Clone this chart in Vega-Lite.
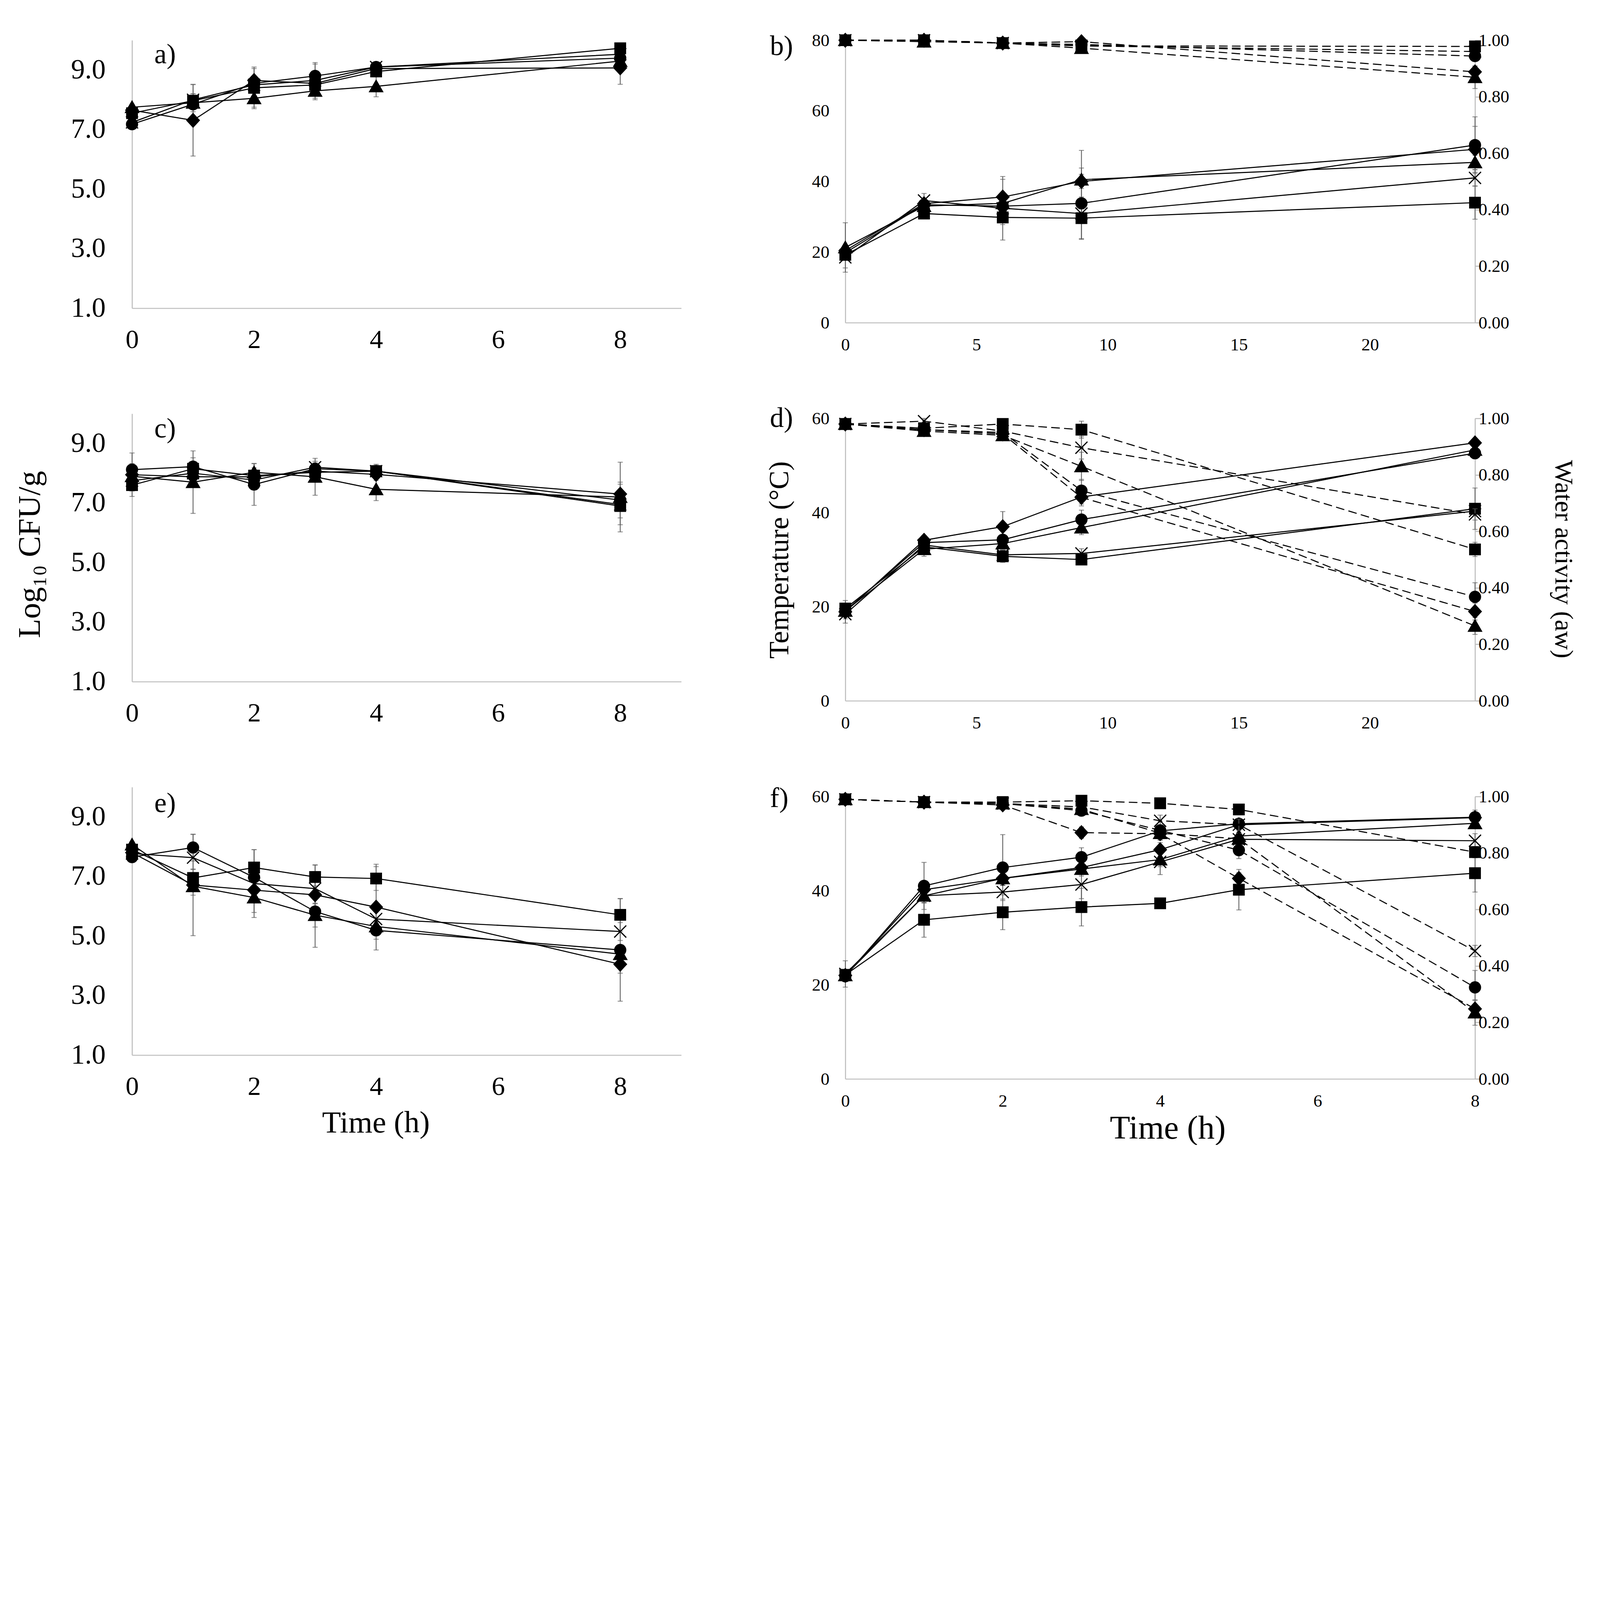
{
  "$schema": "https://vega.github.io/schema/vega-lite/v6.json",
  "background": "white",
  "padding": {"left": 36, "top": 79, "right": 20, "bottom": 0},
  "config": {
    "view": {"stroke": null},
    "font": "Liberation Serif",
    "title": {"font": "Liberation Serif", "fontWeight": "normal", "color": "black", "anchor": "start", "frame": "group", "align": "left", "baseline": "alphabetic", "offset": 0, "fontSize": 71},
    "axis": {
      "grid": false, "ticks": false, "tickSize": 0,
      "domainColor": "#bfbfbf", "domainWidth": 2.7,
      "labelFont": "Liberation Serif", "titleFont": "Liberation Serif",
      "labelColor": "black", "titleColor": "black", "titleFontWeight": "normal",
      "labelFlush": false, "labelOverlap": false, "labelBound": false
    }
  },
  "datasets": {
    "a": [
      {"t":0,"s":"diamond","v":7.65,"e":0.15},{"t":1,"s":"diamond","v":7.31,"e":1.2},{"t":2,"s":"diamond","v":8.65,"e":0.4},{"t":3,"s":"diamond","v":8.55,"e":0.2},{"t":4,"s":"diamond","v":9.05,"e":0.15},{"t":8,"s":"diamond","v":9.07,"e":0.55},
      {"t":0,"s":"square","v":7.55,"e":0.15},{"t":1,"s":"square","v":7.97,"e":0.55},{"t":2,"s":"square","v":8.4,"e":0.7},{"t":3,"s":"square","v":8.5,"e":0.2},{"t":4,"s":"square","v":8.95,"e":0.15},{"t":8,"s":"square","v":9.73,"e":0.15},
      {"t":0,"s":"triangle","v":7.75,"e":0.1},{"t":1,"s":"triangle","v":7.9,"e":0.3},{"t":2,"s":"triangle","v":8.05,"e":0.3},{"t":3,"s":"triangle","v":8.3,"e":0.3},{"t":4,"s":"triangle","v":8.45,"e":0.35},{"t":8,"s":"triangle","v":9.3,"e":0.15},
      {"t":0,"s":"cross","v":7.24,"e":0.1},{"t":1,"s":"cross","v":8.0,"e":0.2},{"t":2,"s":"cross","v":8.5,"e":0.2},{"t":3,"s":"cross","v":8.65,"e":0.6},{"t":4,"s":"cross","v":9.1,"e":0.15},{"t":8,"s":"cross","v":9.53,"e":0.1},
      {"t":0,"s":"circle","v":7.18,"e":0.1},{"t":1,"s":"circle","v":7.85,"e":0.1},{"t":2,"s":"circle","v":8.55,"e":0.2},{"t":3,"s":"circle","v":8.8,"e":0.4},{"t":4,"s":"circle","v":9.1,"e":0.15},{"t":8,"s":"circle","v":9.4,"e":0.1}
    ],
    "c": [
      {"t":0,"s":"diamond","v":7.95,"e":0.73},{"t":1,"s":"diamond","v":7.88,"e":0.3},{"t":2,"s":"diamond","v":7.88,"e":0.3},{"t":3,"s":"diamond","v":8.07,"e":0.2},{"t":4,"s":"diamond","v":7.96,"e":0.2},{"t":8,"s":"diamond","v":7.3,"e":0.4},
      {"t":0,"s":"square","v":7.6,"e":0.2},{"t":1,"s":"square","v":8.15,"e":0.2},{"t":2,"s":"square","v":7.92,"e":0.2},{"t":3,"s":"square","v":8.03,"e":0.2},{"t":4,"s":"square","v":8.07,"e":0.15},{"t":8,"s":"square","v":6.9,"e":0.4},
      {"t":0,"s":"triangle","v":7.9,"e":0.3},{"t":1,"s":"triangle","v":7.7,"e":1.05},{"t":2,"s":"triangle","v":8.03,"e":0.3},{"t":3,"s":"triangle","v":7.88,"e":0.62},{"t":4,"s":"triangle","v":7.46,"e":0.38},{"t":8,"s":"triangle","v":7.2,"e":1.17},
      {"t":0,"s":"cross","v":7.75,"e":0.2},{"t":1,"s":"cross","v":8.0,"e":0.3},{"t":2,"s":"cross","v":7.77,"e":0.3},{"t":3,"s":"cross","v":8.2,"e":0.2},{"t":4,"s":"cross","v":8.07,"e":0.2},{"t":8,"s":"cross","v":6.95,"e":0.68},
      {"t":0,"s":"circle","v":8.12,"e":0.2},{"t":1,"s":"circle","v":8.22,"e":0.3},{"t":2,"s":"circle","v":7.62,"e":0.7},{"t":3,"s":"circle","v":8.15,"e":0.2},{"t":4,"s":"circle","v":8.07,"e":0.23},{"t":8,"s":"circle","v":7.1,"e":0.3}
    ],
    "e": [
      {"t":0,"s":"diamond","v":7.8,"e":0.1},{"t":1,"s":"diamond","v":6.71,"e":1.7},{"t":2,"s":"diamond","v":6.54,"e":0.4},{"t":3,"s":"diamond","v":6.38,"e":0.3},{"t":4,"s":"diamond","v":5.97,"e":1.44},{"t":8,"s":"diamond","v":4.05,"e":0.3},
      {"t":0,"s":"square","v":7.9,"e":0.1},{"t":1,"s":"square","v":6.95,"e":0.3},{"t":2,"s":"square","v":7.3,"e":0.6},{"t":3,"s":"square","v":6.98,"e":0.4},{"t":4,"s":"square","v":6.93,"e":0.4},{"t":8,"s":"square","v":5.71,"e":0.55},
      {"t":0,"s":"triangle","v":8.07,"e":0.1},{"t":1,"s":"triangle","v":6.67,"e":0.3},{"t":2,"s":"triangle","v":6.29,"e":0.5},{"t":3,"s":"triangle","v":5.7,"e":0.4},{"t":4,"s":"triangle","v":5.32,"e":0.3},{"t":8,"s":"triangle","v":4.39,"e":0.3},
      {"t":0,"s":"cross","v":7.77,"e":0.1},{"t":1,"s":"cross","v":7.63,"e":0.4},{"t":2,"s":"cross","v":6.76,"e":1.14},{"t":3,"s":"cross","v":6.59,"e":0.8},{"t":4,"s":"cross","v":5.57,"e":0.3},{"t":8,"s":"cross","v":5.15,"e":0.3},
      {"t":0,"s":"circle","v":7.65,"e":0.1},{"t":1,"s":"circle","v":7.97,"e":0.45},{"t":2,"s":"circle","v":6.97,"e":0.4},{"t":3,"s":"circle","v":5.82,"e":1.2},{"t":4,"s":"circle","v":5.19,"e":0.3},{"t":8,"s":"circle","v":4.53,"e":1.72}
    ],
    "bT": [
      {"t":0,"s":"diamond","v":20.4,"e":1},{"t":3,"s":"diamond","v":33.7,"e":1},{"t":6,"s":"diamond","v":35.6,"e":5},{"t":9,"s":"diamond","v":40.0,"e":2},{"t":24,"s":"diamond","v":49.1,"e":6.5},
      {"t":0,"s":"square","v":19.2,"e":1},{"t":3,"s":"square","v":30.9,"e":1},{"t":6,"s":"square","v":29.8,"e":2},{"t":9,"s":"square","v":29.6,"e":6},{"t":24,"s":"square","v":34.0,"e":4.7},
      {"t":0,"s":"triangle","v":21.3,"e":7},{"t":3,"s":"triangle","v":33.0,"e":1},{"t":6,"s":"triangle","v":33.8,"e":2},{"t":9,"s":"triangle","v":40.5,"e":8.3},{"t":24,"s":"triangle","v":45.4,"e":2},
      {"t":0,"s":"cross","v":18.5,"e":3},{"t":3,"s":"cross","v":34.6,"e":2},{"t":6,"s":"cross","v":32.4,"e":9},{"t":9,"s":"cross","v":30.9,"e":2},{"t":24,"s":"cross","v":41.0,"e":2.3},
      {"t":0,"s":"circle","v":19.8,"e":1},{"t":3,"s":"circle","v":33.4,"e":1},{"t":6,"s":"circle","v":33.0,"e":2},{"t":9,"s":"circle","v":33.8,"e":10},{"t":24,"s":"circle","v":50.3,"e":8}
    ],
    "bW": [
      {"t":0,"s":"diamond","v":1.0,"e":0.005},{"t":3,"s":"diamond","v":1.0,"e":0.005},{"t":6,"s":"diamond","v":0.99,"e":0.005},{"t":9,"s":"diamond","v":0.995,"e":0.005},{"t":24,"s":"diamond","v":0.888,"e":0.02},
      {"t":0,"s":"square","v":1.0,"e":0.005},{"t":3,"s":"square","v":1.0,"e":0.005},{"t":6,"s":"square","v":0.99,"e":0.005},{"t":9,"s":"square","v":0.98,"e":0.005},{"t":24,"s":"square","v":0.978,"e":0.005},
      {"t":0,"s":"triangle","v":1.0,"e":0.005},{"t":3,"s":"triangle","v":0.995,"e":0.005},{"t":6,"s":"triangle","v":0.99,"e":0.005},{"t":9,"s":"triangle","v":0.972,"e":0.01},{"t":24,"s":"triangle","v":0.869,"e":0.04},
      {"t":0,"s":"cross","v":1.0,"e":0.005},{"t":3,"s":"cross","v":1.0,"e":0.005},{"t":6,"s":"cross","v":0.99,"e":0.005},{"t":9,"s":"cross","v":0.98,"e":0.005},{"t":24,"s":"cross","v":0.96,"e":0.005},
      {"t":0,"s":"circle","v":1.0,"e":0.005},{"t":3,"s":"circle","v":1.0,"e":0.005},{"t":6,"s":"circle","v":0.99,"e":0.005},{"t":9,"s":"circle","v":0.985,"e":0.005},{"t":24,"s":"circle","v":0.944,"e":0.01}
    ],
    "dT": [
      {"t":0,"s":"diamond","v":18.9,"e":2.4},{"t":3,"s":"diamond","v":34.1,"e":1},{"t":6,"s":"diamond","v":37.0,"e":3.2},{"t":9,"s":"diamond","v":43.3,"e":1.5},{"t":24,"s":"diamond","v":54.8,"e":0.5},
      {"t":0,"s":"square","v":19.6,"e":1},{"t":3,"s":"square","v":32.7,"e":2},{"t":6,"s":"square","v":30.7,"e":1.3},{"t":9,"s":"square","v":30.0,"e":0.8},{"t":24,"s":"square","v":40.8,"e":4.4},
      {"t":0,"s":"triangle","v":19.1,"e":1},{"t":3,"s":"triangle","v":32.2,"e":1},{"t":6,"s":"triangle","v":33.4,"e":1},{"t":9,"s":"triangle","v":36.8,"e":1.5},{"t":24,"s":"triangle","v":53.3,"e":1.5},
      {"t":0,"s":"cross","v":18.4,"e":1},{"t":3,"s":"cross","v":33.1,"e":1},{"t":6,"s":"cross","v":31.0,"e":1},{"t":9,"s":"cross","v":31.3,"e":1},{"t":24,"s":"cross","v":40.3,"e":1},
      {"t":0,"s":"circle","v":19.1,"e":1},{"t":3,"s":"circle","v":33.6,"e":1},{"t":6,"s":"circle","v":34.2,"e":1},{"t":9,"s":"circle","v":38.5,"e":2},{"t":24,"s":"circle","v":52.6,"e":1.2}
    ],
    "dW": [
      {"t":0,"s":"diamond","v":0.98,"e":0.005},{"t":3,"s":"diamond","v":0.96,"e":0.01},{"t":6,"s":"diamond","v":0.945,"e":0.01},{"t":9,"s":"diamond","v":0.72,"e":0.03},{"t":24,"s":"diamond","v":0.316,"e":0.03},
      {"t":0,"s":"square","v":0.98,"e":0.005},{"t":3,"s":"square","v":0.965,"e":0.01},{"t":6,"s":"square","v":0.98,"e":0.01},{"t":9,"s":"square","v":0.96,"e":0.03},{"t":24,"s":"square","v":0.536,"e":0.025},
      {"t":0,"s":"triangle","v":0.98,"e":0.005},{"t":3,"s":"triangle","v":0.955,"e":0.01},{"t":6,"s":"triangle","v":0.94,"e":0.01},{"t":9,"s":"triangle","v":0.83,"e":0.05},{"t":24,"s":"triangle","v":0.265,"e":0.03},
      {"t":0,"s":"cross","v":0.98,"e":0.005},{"t":3,"s":"cross","v":0.99,"e":0.01},{"t":6,"s":"cross","v":0.955,"e":0.01},{"t":9,"s":"cross","v":0.896,"e":0.04},{"t":24,"s":"cross","v":0.66,"e":0.02},
      {"t":0,"s":"circle","v":0.98,"e":0.005},{"t":3,"s":"circle","v":0.96,"e":0.01},{"t":6,"s":"circle","v":0.95,"e":0.01},{"t":9,"s":"circle","v":0.744,"e":0.04},{"t":24,"s":"circle","v":0.368,"e":0.05}
    ],
    "fT": [
      {"t":0,"s":"diamond","v":22.0,"e":1},{"t":1,"s":"diamond","v":40.2,"e":1.5},{"t":2,"s":"diamond","v":42.6,"e":1.5},{"t":3,"s":"diamond","v":44.9,"e":1.5},{"t":4,"s":"diamond","v":48.7,"e":1.5},{"t":5,"s":"diamond","v":54.0,"e":1},{"t":8,"s":"diamond","v":55.5,"e":1},
      {"t":0,"s":"square","v":22.1,"e":1},{"t":1,"s":"square","v":33.8,"e":3.7},{"t":2,"s":"square","v":35.4,"e":3.7},{"t":3,"s":"square","v":36.5,"e":4},{"t":4,"s":"square","v":37.3,"e":1},{"t":5,"s":"square","v":40.2,"e":4.3},{"t":8,"s":"square","v":43.7,"e":4},
      {"t":0,"s":"triangle","v":22.0,"e":1},{"t":1,"s":"triangle","v":38.9,"e":1.5},{"t":2,"s":"triangle","v":42.6,"e":1.5},{"t":3,"s":"triangle","v":44.6,"e":1.5},{"t":4,"s":"triangle","v":46.6,"e":1.5},{"t":5,"s":"triangle","v":51.6,"e":1.5},{"t":8,"s":"triangle","v":54.3,"e":1},
      {"t":0,"s":"cross","v":22.3,"e":2.8},{"t":1,"s":"cross","v":38.9,"e":1.5},{"t":2,"s":"cross","v":39.7,"e":1.5},{"t":3,"s":"cross","v":41.3,"e":3},{"t":4,"s":"cross","v":46.1,"e":2.7},{"t":5,"s":"cross","v":50.9,"e":1.5},{"t":8,"s":"cross","v":50.6,"e":1.5},
      {"t":0,"s":"circle","v":21.8,"e":1},{"t":1,"s":"circle","v":41.0,"e":5},{"t":2,"s":"circle","v":44.9,"e":7},{"t":3,"s":"circle","v":47.1,"e":2},{"t":4,"s":"circle","v":52.7,"e":2},{"t":5,"s":"circle","v":54.2,"e":1},{"t":8,"s":"circle","v":55.6,"e":1.5}
    ],
    "fW": [
      {"t":0,"s":"diamond","v":0.99,"e":0.005},{"t":1,"s":"diamond","v":0.98,"e":0.005},{"t":2,"s":"diamond","v":0.97,"e":0.01},{"t":3,"s":"diamond","v":0.872,"e":0.02},{"t":4,"s":"diamond","v":0.868,"e":0.02},{"t":5,"s":"diamond","v":0.71,"e":0.02},{"t":8,"s":"diamond","v":0.248,"e":0.03},
      {"t":0,"s":"square","v":0.99,"e":0.005},{"t":1,"s":"square","v":0.98,"e":0.005},{"t":2,"s":"square","v":0.98,"e":0.005},{"t":3,"s":"square","v":0.985,"e":0.005},{"t":4,"s":"square","v":0.976,"e":0.01},{"t":5,"s":"square","v":0.954,"e":0.013},{"t":8,"s":"square","v":0.803,"e":0.02},
      {"t":0,"s":"triangle","v":0.99,"e":0.005},{"t":1,"s":"triangle","v":0.98,"e":0.005},{"t":2,"s":"triangle","v":0.975,"e":0.01},{"t":3,"s":"triangle","v":0.955,"e":0.01},{"t":4,"s":"triangle","v":0.87,"e":0.02},{"t":5,"s":"triangle","v":0.85,"e":0.02},{"t":8,"s":"triangle","v":0.235,"e":0.045},
      {"t":0,"s":"cross","v":0.99,"e":0.005},{"t":1,"s":"cross","v":0.98,"e":0.005},{"t":2,"s":"cross","v":0.975,"e":0.01},{"t":3,"s":"cross","v":0.963,"e":0.01},{"t":4,"s":"cross","v":0.914,"e":0.02},{"t":5,"s":"cross","v":0.9,"e":0.02},{"t":8,"s":"cross","v":0.453,"e":0.02},
      {"t":0,"s":"circle","v":0.99,"e":0.005},{"t":1,"s":"circle","v":0.98,"e":0.005},{"t":2,"s":"circle","v":0.975,"e":0.01},{"t":3,"s":"circle","v":0.95,"e":0.01},{"t":4,"s":"circle","v":0.88,"e":0.02},{"t":5,"s":"circle","v":0.81,"e":0.03},{"t":8,"s":"circle","v":0.324,"e":0.06}
    ]
  },
  "spacing": 215,
  "hconcat": [
    {
      "spacing": 270,
      "bounds": "flush",
      "vconcat": [
        {
          "width": 1406, "height": 686,
          "title": {"text": "a)", "dx": 57, "dy": 78},
          "data": {"name": "a"},
          "encoding": {
            "x": {"field": "t", "type": "quantitative", "scale": {"domain": [0, 9], "nice": false, "zero": false},
                  "axis": {"values": [0, 2, 4, 6, 8], "labelFontSize": 68, "labelBaseline": "alphabetic", "labelPadding": 101, "title": null}},
            "y": {"field": "v", "type": "quantitative", "scale": {"domain": [1, 10], "nice": false, "zero": false},
                  "axis": {"values": [1, 3, 5, 7, 9], "format": ".1f", "labelFontSize": 71, "labelPadding": 68, "title": null}}
          },
          "layer": [
            {"transform": [{"filter": "datum.e > 0"}], "mark": {"type": "errorbar", "color": "#595959", "ticks": {"size": 13, "thickness": 2.1}, "rule": {"strokeWidth": 2.1}}, "encoding": {"yError": {"field": "e"}}},
            {"mark": {"type": "line", "color": "black", "strokeWidth": 2.7}, "encoding": {"detail": {"field": "s"}}},
            {"mark": {"type": "point", "filled": true, "fill": "black", "stroke": "black", "strokeWidth": 3, "opacity": 1, "size": 1313},
             "encoding": {"shape": {"field": "s", "type": "nominal", "legend": null, "scale": {"domain": ["diamond", "square", "triangle", "cross", "circle"], "range": ["M0,-0.95L0.88,0L0,0.95L-0.88,0Z", "M-0.75,-0.75L0.75,-0.75L0.75,0.75L-0.75,0.75Z", "M0,-0.85L0.92,0.75L-0.92,0.75Z", "M-0.85,-0.85L0.85,0.85M-0.85,0.85L0.85,-0.85", "M0.78,0A0.78,0.78,0,1,1,-0.78,0A0.78,0.78,0,1,1,0.78,0Z"]}}}}
          ]
        },
        {
          "width": 1406, "height": 686,
          "title": {"text": "c)", "dx": 57, "dy": 80},
          "data": {"name": "c"},
          "encoding": {
            "x": {"field": "t", "type": "quantitative", "scale": {"domain": [0, 9], "nice": false, "zero": false},
                  "axis": {"values": [0, 2, 4, 6, 8], "labelFontSize": 68, "labelBaseline": "alphabetic", "labelPadding": 101, "title": null}},
            "y": {"field": "v", "type": "quantitative", "scale": {"domain": [1, 10], "nice": false, "zero": false},
                  "axis": {"values": [1, 3, 5, 7, 9], "format": ".1f", "labelFontSize": 71, "labelPadding": 68,
                           "title": "Log₁₀ CFU/g", "titleFontSize": 81, "titleAngle": 270, "titleBaseline": "alphabetic", "titleAlign": "center", "titleX": -237, "titleY": 360}}
          },
          "layer": [
            {"transform": [{"filter": "datum.e > 0"}], "mark": {"type": "errorbar", "color": "#595959", "ticks": {"size": 13, "thickness": 2.1}, "rule": {"strokeWidth": 2.1}}, "encoding": {"yError": {"field": "e"}}},
            {"mark": {"type": "line", "color": "black", "strokeWidth": 2.7}, "encoding": {"detail": {"field": "s"}}},
            {"mark": {"type": "point", "filled": true, "fill": "black", "stroke": "black", "strokeWidth": 3, "opacity": 1, "size": 1313},
             "encoding": {"shape": {"field": "s", "type": "nominal", "legend": null, "scale": {"domain": ["diamond", "square", "triangle", "cross", "circle"], "range": ["M0,-0.95L0.88,0L0,0.95L-0.88,0Z", "M-0.75,-0.75L0.75,-0.75L0.75,0.75L-0.75,0.75Z", "M0,-0.85L0.92,0.75L-0.92,0.75Z", "M-0.85,-0.85L0.85,0.85M-0.85,0.85L0.85,-0.85", "M0.78,0A0.78,0.78,0,1,1,-0.78,0A0.78,0.78,0,1,1,0.78,0Z"]}}}}
          ]
        },
        {
          "width": 1406, "height": 686,
          "title": {"text": "e)", "dx": 57, "dy": 83},
          "data": {"name": "e"},
          "encoding": {
            "x": {"field": "t", "type": "quantitative", "scale": {"domain": [0, 9], "nice": false, "zero": false},
                  "axis": {"values": [0, 2, 4, 6, 8], "labelFontSize": 68, "labelBaseline": "alphabetic", "labelPadding": 101,
                           "title": "Time (h)", "titleFontSize": 79, "titleBaseline": "alphabetic", "titleAlign": "center", "titleX": 624, "titleY": 197}},
            "y": {"field": "v", "type": "quantitative", "scale": {"domain": [1, 10], "nice": false, "zero": false},
                  "axis": {"values": [1, 3, 5, 7, 9], "format": ".1f", "labelFontSize": 71, "labelPadding": 68, "title": null}}
          },
          "layer": [
            {"transform": [{"filter": "datum.e > 0"}], "mark": {"type": "errorbar", "color": "#595959", "ticks": {"size": 13, "thickness": 2.1}, "rule": {"strokeWidth": 2.1}}, "encoding": {"yError": {"field": "e"}}},
            {"mark": {"type": "line", "color": "black", "strokeWidth": 2.7}, "encoding": {"detail": {"field": "s"}}},
            {"mark": {"type": "point", "filled": true, "fill": "black", "stroke": "black", "strokeWidth": 3, "opacity": 1, "size": 1313},
             "encoding": {"shape": {"field": "s", "type": "nominal", "legend": null, "scale": {"domain": ["diamond", "square", "triangle", "cross", "circle"], "range": ["M0,-0.95L0.88,0L0,0.95L-0.88,0Z", "M-0.75,-0.75L0.75,-0.75L0.75,0.75L-0.75,0.75Z", "M0,-0.85L0.92,0.75L-0.92,0.75Z", "M-0.85,-0.85L0.85,0.85M-0.85,0.85L0.85,-0.85", "M0.78,0A0.78,0.78,0,1,1,-0.78,0A0.78,0.78,0,1,1,0.78,0Z"]}}}}
          ]
        }
      ]
    },
    {
      "spacing": 245,
      "bounds": "flush",
      "vconcat": [
        {
          "width": 1612, "height": 723,
          "title": {"text": "b)", "dx": -193, "dy": 80},
          "encoding": {
            "x": {"field": "t", "type": "quantitative", "scale": {"domain": [0, 24], "nice": false, "zero": false},
                  "axis": {"values": [0, 5, 10, 15, 20], "labelFontSize": 45, "labelBaseline": "alphabetic", "labelPadding": 70, "title": null}}
          },
          "layer": [
            {
              "data": {"name": "bT"},
              "encoding": {"y": {"field": "v", "type": "quantitative", "scale": {"domain": [0, 80], "nice": false},
                                 "axis": {"orient": "left", "values": [0, 20, 40, 60, 80], "labelFontSize": 45, "labelPadding": 41, "title": null}}},
              "layer": [
                {"transform": [{"filter": "datum.e > 0"}], "mark": {"type": "errorbar", "color": "#595959", "ticks": {"size": 13, "thickness": 2.1}, "rule": {"strokeWidth": 2.1}}, "encoding": {"yError": {"field": "e"}}},
                {"mark": {"type": "line", "color": "black", "strokeWidth": 2.7}, "encoding": {"detail": {"field": "s"}}},
                {"mark": {"type": "point", "filled": true, "fill": "black", "stroke": "black", "strokeWidth": 3, "opacity": 1, "size": 1313},
                 "encoding": {"shape": {"field": "s", "type": "nominal", "legend": null, "scale": {"domain": ["diamond", "square", "triangle", "cross", "circle"], "range": ["M0,-0.95L0.88,0L0,0.95L-0.88,0Z", "M-0.75,-0.75L0.75,-0.75L0.75,0.75L-0.75,0.75Z", "M0,-0.85L0.92,0.75L-0.92,0.75Z", "M-0.85,-0.85L0.85,0.85M-0.85,0.85L0.85,-0.85", "M0.78,0A0.78,0.78,0,1,1,-0.78,0A0.78,0.78,0,1,1,0.78,0Z"]}}}}
              ]
            },
            {
              "data": {"name": "bW"},
              "encoding": {"y": {"field": "v", "type": "quantitative", "scale": {"domain": [0, 1], "nice": false},
                                 "axis": {"orient": "right", "values": [0, 0.2, 0.4, 0.6, 0.8, 1], "format": ".2f", "labelFontSize": 45, "ticks": true, "tickSize": 14.5, "tickColor": "#bfbfbf", "tickWidth": 2.7, "labelPadding": -6, "title": null}}},
              "layer": [
                {"transform": [{"filter": "datum.e > 0"}], "mark": {"type": "errorbar", "color": "#595959", "ticks": {"size": 13, "thickness": 2.1}, "rule": {"strokeWidth": 2.1}}, "encoding": {"yError": {"field": "e"}}},
                {"mark": {"type": "line", "color": "black", "strokeWidth": 2.7, "strokeDash": [22, 11]}, "encoding": {"detail": {"field": "s"}}},
                {"mark": {"type": "point", "filled": true, "fill": "black", "stroke": "black", "strokeWidth": 3, "opacity": 1, "size": 1313},
                 "encoding": {"shape": {"field": "s", "type": "nominal", "legend": null, "scale": {"domain": ["diamond", "square", "triangle", "cross", "circle"], "range": ["M0,-0.95L0.88,0L0,0.95L-0.88,0Z", "M-0.75,-0.75L0.75,-0.75L0.75,0.75L-0.75,0.75Z", "M0,-0.85L0.92,0.75L-0.92,0.75Z", "M-0.85,-0.85L0.85,0.85M-0.85,0.85L0.85,-0.85", "M0.78,0A0.78,0.78,0,1,1,-0.78,0A0.78,0.78,0,1,1,0.78,0Z"]}}}}
              ]
            }
          ],
          "resolve": {"scale": {"y": "independent"}}
        },
        {
          "width": 1612, "height": 723,
          "title": {"text": "d)", "dx": -193, "dy": 63},
          "encoding": {
            "x": {"field": "t", "type": "quantitative", "scale": {"domain": [0, 24], "nice": false, "zero": false},
                  "axis": {"values": [0, 5, 10, 15, 20], "labelFontSize": 45, "labelBaseline": "alphabetic", "labelPadding": 70, "title": null}}
          },
          "layer": [
            {
              "data": {"name": "dT"},
              "encoding": {"y": {"field": "v", "type": "quantitative", "scale": {"domain": [0, 60], "nice": false},
                                 "axis": {"orient": "left", "values": [0, 20, 40, 60], "labelFontSize": 45, "labelPadding": 41,
                                          "title": "Temperature (°C)", "titleFontSize": 72, "titleAngle": 270, "titleBaseline": "alphabetic", "titleAlign": "center", "titleX": -147, "titleY": 362}}},
              "layer": [
                {"transform": [{"filter": "datum.e > 0"}], "mark": {"type": "errorbar", "color": "#595959", "ticks": {"size": 13, "thickness": 2.1}, "rule": {"strokeWidth": 2.1}}, "encoding": {"yError": {"field": "e"}}},
                {"mark": {"type": "line", "color": "black", "strokeWidth": 2.7}, "encoding": {"detail": {"field": "s"}}},
                {"mark": {"type": "point", "filled": true, "fill": "black", "stroke": "black", "strokeWidth": 3, "opacity": 1, "size": 1313},
                 "encoding": {"shape": {"field": "s", "type": "nominal", "legend": null, "scale": {"domain": ["diamond", "square", "triangle", "cross", "circle"], "range": ["M0,-0.95L0.88,0L0,0.95L-0.88,0Z", "M-0.75,-0.75L0.75,-0.75L0.75,0.75L-0.75,0.75Z", "M0,-0.85L0.92,0.75L-0.92,0.75Z", "M-0.85,-0.85L0.85,0.85M-0.85,0.85L0.85,-0.85", "M0.78,0A0.78,0.78,0,1,1,-0.78,0A0.78,0.78,0,1,1,0.78,0Z"]}}}}
              ]
            },
            {
              "data": {"name": "dW"},
              "encoding": {"y": {"field": "v", "type": "quantitative", "scale": {"domain": [0, 1], "nice": false},
                                 "axis": {"orient": "right", "values": [0, 0.2, 0.4, 0.6, 0.8, 1], "format": ".2f", "labelFontSize": 45, "ticks": true, "tickSize": 14.5, "tickColor": "#bfbfbf", "tickWidth": 2.7, "labelPadding": -6,
                                          "title": "Water activity (aw)", "titleFontSize": 66, "titleAngle": 90, "titleBaseline": "alphabetic", "titleAlign": "center", "titleX": 205, "titleY": 360}}},
              "layer": [
                {"transform": [{"filter": "datum.e > 0"}], "mark": {"type": "errorbar", "color": "#595959", "ticks": {"size": 13, "thickness": 2.1}, "rule": {"strokeWidth": 2.1}}, "encoding": {"yError": {"field": "e"}}},
                {"mark": {"type": "line", "color": "black", "strokeWidth": 2.7, "strokeDash": [22, 11]}, "encoding": {"detail": {"field": "s"}}},
                {"mark": {"type": "point", "filled": true, "fill": "black", "stroke": "black", "strokeWidth": 3, "opacity": 1, "size": 1313},
                 "encoding": {"shape": {"field": "s", "type": "nominal", "legend": null, "scale": {"domain": ["diamond", "square", "triangle", "cross", "circle"], "range": ["M0,-0.95L0.88,0L0,0.95L-0.88,0Z", "M-0.75,-0.75L0.75,-0.75L0.75,0.75L-0.75,0.75Z", "M0,-0.85L0.92,0.75L-0.92,0.75Z", "M-0.85,-0.85L0.85,0.85M-0.85,0.85L0.85,-0.85", "M0.78,0A0.78,0.78,0,1,1,-0.78,0A0.78,0.78,0,1,1,0.78,0Z"]}}}}
              ]
            }
          ],
          "resolve": {"scale": {"y": "independent"}}
        },
        {
          "width": 1612, "height": 723,
          "title": {"text": "f)", "dx": -193, "dy": 68},
          "encoding": {
            "x": {"field": "t", "type": "quantitative", "scale": {"domain": [0, 8], "nice": false, "zero": false},
                  "axis": {"values": [0, 2, 4, 6, 8], "labelFontSize": 45, "labelBaseline": "alphabetic", "labelPadding": 70,
                           "title": "Time (h)", "titleFontSize": 85, "titleBaseline": "alphabetic", "titleAlign": "center", "titleX": 825, "titleY": 152}}
          },
          "layer": [
            {
              "data": {"name": "fT"},
              "encoding": {"y": {"field": "v", "type": "quantitative", "scale": {"domain": [0, 60], "nice": false},
                                 "axis": {"orient": "left", "values": [0, 20, 40, 60], "labelFontSize": 45, "labelPadding": 41, "title": null}}},
              "layer": [
                {"transform": [{"filter": "datum.e > 0"}], "mark": {"type": "errorbar", "color": "#595959", "ticks": {"size": 13, "thickness": 2.1}, "rule": {"strokeWidth": 2.1}}, "encoding": {"yError": {"field": "e"}}},
                {"mark": {"type": "line", "color": "black", "strokeWidth": 2.7}, "encoding": {"detail": {"field": "s"}}},
                {"mark": {"type": "point", "filled": true, "fill": "black", "stroke": "black", "strokeWidth": 3, "opacity": 1, "size": 1313},
                 "encoding": {"shape": {"field": "s", "type": "nominal", "legend": null, "scale": {"domain": ["diamond", "square", "triangle", "cross", "circle"], "range": ["M0,-0.95L0.88,0L0,0.95L-0.88,0Z", "M-0.75,-0.75L0.75,-0.75L0.75,0.75L-0.75,0.75Z", "M0,-0.85L0.92,0.75L-0.92,0.75Z", "M-0.85,-0.85L0.85,0.85M-0.85,0.85L0.85,-0.85", "M0.78,0A0.78,0.78,0,1,1,-0.78,0A0.78,0.78,0,1,1,0.78,0Z"]}}}}
              ]
            },
            {
              "data": {"name": "fW"},
              "encoding": {"y": {"field": "v", "type": "quantitative", "scale": {"domain": [0, 1], "nice": false},
                                 "axis": {"orient": "right", "values": [0, 0.2, 0.4, 0.6, 0.8, 1], "format": ".2f", "labelFontSize": 45, "ticks": true, "tickSize": 14.5, "tickColor": "#bfbfbf", "tickWidth": 2.7, "labelPadding": -6, "title": null}}},
              "layer": [
                {"transform": [{"filter": "datum.e > 0"}], "mark": {"type": "errorbar", "color": "#595959", "ticks": {"size": 13, "thickness": 2.1}, "rule": {"strokeWidth": 2.1}}, "encoding": {"yError": {"field": "e"}}},
                {"mark": {"type": "line", "color": "black", "strokeWidth": 2.7, "strokeDash": [22, 11]}, "encoding": {"detail": {"field": "s"}}},
                {"mark": {"type": "point", "filled": true, "fill": "black", "stroke": "black", "strokeWidth": 3, "opacity": 1, "size": 1313},
                 "encoding": {"shape": {"field": "s", "type": "nominal", "legend": null, "scale": {"domain": ["diamond", "square", "triangle", "cross", "circle"], "range": ["M0,-0.95L0.88,0L0,0.95L-0.88,0Z", "M-0.75,-0.75L0.75,-0.75L0.75,0.75L-0.75,0.75Z", "M0,-0.85L0.92,0.75L-0.92,0.75Z", "M-0.85,-0.85L0.85,0.85M-0.85,0.85L0.85,-0.85", "M0.78,0A0.78,0.78,0,1,1,-0.78,0A0.78,0.78,0,1,1,0.78,0Z"]}}}}
              ]
            }
          ],
          "resolve": {"scale": {"y": "independent"}}
        }
      ]
    }
  ]
}
